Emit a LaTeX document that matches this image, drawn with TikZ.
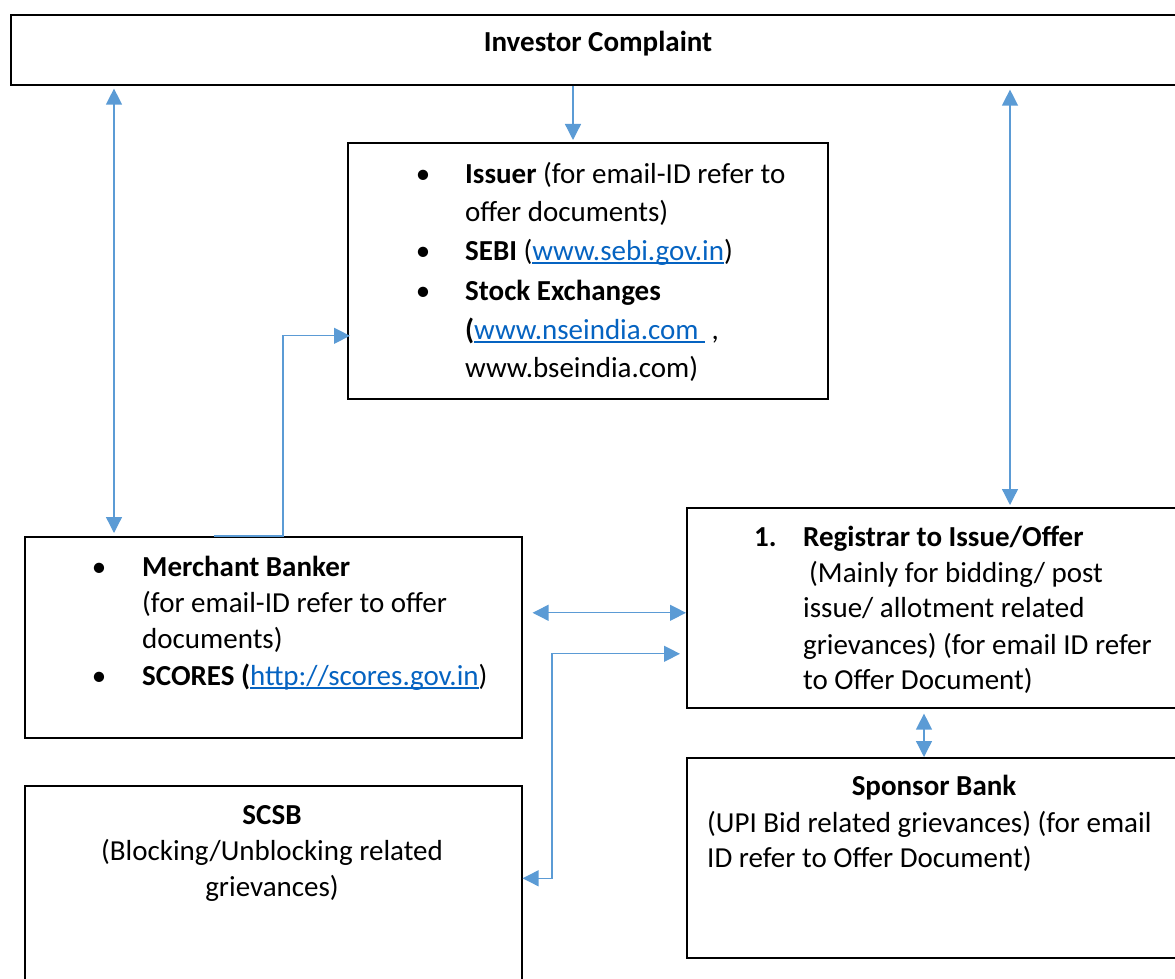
\documentclass[tikz,border=0pt]{standalone}
\usepackage{fontspec}
\setmainfont{Carlito}
\usetikzlibrary{arrows.meta}
\definecolor{arrblue}{HTML}{5B9BD5}
\definecolor{linkblue}{HTML}{0563C1}
\newcommand{\lnk}[1]{\textcolor{linkblue}{\setbox0\hbox{#1}\rlap{\rule[-4pt]{\wd0}{1.6pt}}\box0}}
\tikzset{
  box/.style={draw=black, line width=1.6pt, rectangle, anchor=north west, inner sep=0pt},
  txt/.style={anchor=base west, inner sep=0pt, font=\fontsize{29pt}{35pt}\selectfont},
  ctxt/.style={anchor=base, inner sep=0pt, font=\fontsize{29pt}{35pt}\selectfont},
  conn/.style={draw=arrblue, line width=1.3pt},
  one/.style={conn, -{Triangle[width=16pt,length=16pt]}},
  dbl/.style={conn, {Triangle[width=16pt,length=16pt]}-{Triangle[width=16pt,length=16pt]}}
}
\begin{document}
\begin{tikzpicture}[x=1pt,y=-1pt]
\useasboundingbox (0,0) rectangle (1175,979);
% boxes
\node[box, minimum width=1180pt, minimum height=70pt] (inv) at (10,14) {};
\node[box, minimum width=480pt, minimum height=256pt] (iss) at (347,142) {};
\node[box, minimum width=497pt, minimum height=201pt] (mb) at (24,536) {};
\node[box, minimum width=500pt, minimum height=200pt] (reg) at (686,507) {};
\node[box, minimum width=500pt, minimum height=200pt] (sp) at (686,757) {};
\node[box, minimum width=497pt, minimum height=215pt] (scsb) at (24,785) {};
% texts
\node[ctxt] (tinv) at (598,52) {\textbf{Investor Complaint}};
% issuer
\node[ctxt] (b1) at (423,183) {\textbullet};
\node[txt] (i1) at (465,183) {\textbf{Issuer} (for email-ID refer to};
\node[txt] (i2) at (465,221) {offer documents)};
\node[ctxt] (b2) at (423,260) {\textbullet};
\node[txt] (i3) at (465,260) {\textbf{SEBI} (\lnk{www.sebi.gov.in})};
\node[ctxt] (b3) at (423,300) {\textbullet};
\node[txt] (i4) at (465,300) {\textbf{Stock Exchanges}};
\node[txt] (i5) at (465,339) {\textbf{(}\lnk{www.nseindia.com\ } ,};
\node[txt] (i6) at (465,377) {www.bseindia.com)};
% merchant
\node[ctxt] (b4) at (99,576) {\textbullet};
\node[txt] (m1) at (142,576) {\textbf{Merchant Banker}};
\node[txt] (m2) at (142,612) {(for email-ID refer to offer};
\node[txt] (m3) at (142,648) {documents)};
\node[ctxt] (b5) at (99,685) {\textbullet};
\node[txt] (m4) at (142,685) {\textbf{SCORES (}\lnk{http://scores.gov.in})};
% registrar
\node[txt] (r0) at (754,546) {\textbf{1.}};
\node[txt] (r1) at (803,546) {\textbf{Registrar to Issue/Offer}};
\node[txt] (r2) at (809,582) {(Mainly for bidding/ post};
\node[txt] (r3) at (803,617) {issue/ allotment related};
\node[txt] (r4) at (803,654) {grievances) (for email ID refer};
\node[txt] (r5) at (803,689) {to Offer Document)};
% sponsor
\node[ctxt] (s1) at (934,795) {\textbf{Sponsor Bank}};
\node[txt] (s2) at (707,832) {(UPI Bid related grievances) (for email};
\node[txt] (s3) at (707,867) {ID refer to Offer Document)};
% scsb
\node[ctxt] (c1) at (272,824) {\textbf{SCSB}};
\node[ctxt] (c2) at (272,860) {(Blocking/Unblocking related};
\node[ctxt] (c3) at (272,896) {grievances)};
% helper coordinates
\coordinate (cL) at (114,0);
\coordinate (cM) at (573,0);
\coordinate (cR) at (1010,0);
\coordinate (cS) at (924,0);
\coordinate (cV) at (552,0);
\coordinate (y1) at ([yshift=-5pt]reg.west);
\coordinate (y2) at ([yshift=-46pt]reg.west);
\coordinate (y3) at ([yshift=15pt]scsb.east);
\coordinate (k1) at ([xshift=190pt]mb.north west);
\coordinate (k2) at ([xshift=259pt]mb.north west);
\coordinate (k3) at ([yshift=-65pt]iss.west);
% connectors
\draw[dbl, shorten <=3pt, shorten >=3pt] (inv.south -| cL) -- (mb.north -| cL);
\draw[one, shorten >=2pt] (inv.south -| cM) -- (iss.north -| cM);
\draw[dbl, shorten <=4pt, shorten >=2pt] (inv.south -| cR) -- (reg.north -| cR);
\draw[one, shorten >=-3pt] (k1) -- (k2) |- (k3);
\draw[dbl, shorten <=10pt] (mb.east |- y1) -- (y1);
\draw[dbl, shorten >=6pt] (y3) -| (cV |- y2) -- (y2);
\draw[dbl, shorten <=5pt] (reg.south -| cS) -- (sp.north -| cS);
\end{tikzpicture}
\end{document}
